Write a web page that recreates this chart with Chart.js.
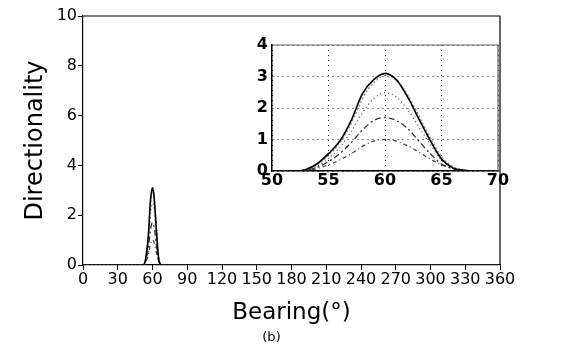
<!DOCTYPE html>
<html>
<head>
<meta charset="utf-8">
<script src="https://cdn.jsdelivr.net/npm/chart.js@4"></script>
<style>
  html,body{margin:0;padding:0;background:#fff;}
  #wrap{position:relative;width:561px;height:351px;}
  #main{position:absolute;left:0;top:0;}
  #inset{position:absolute;left:240px;top:30px;}
</style>
</head>
<body>
<div id="wrap">
  <canvas id="main" width="561" height="351"></canvas>
  <canvas id="inset" width="275" height="170"></canvas>
</div>
<script>
// bearing (deg) and directionality of the five curves
var bearing = [0,52,53,54,55,56,57,58,59,60,61,62,63,64,65,66,67,68,360];
var curveA = [0,0,0.05,0.23,0.55,0.95,1.6,2.45,2.9,3.1,2.9,2.35,1.65,0.97,0.38,0.1,0.02,0,0];
var curveB = [0,0,0.04,0.2,0.5,0.9,1.5,2.3,2.8,3.02,2.88,2.42,1.75,1.05,0.45,0.14,0.03,0,0];
var curveC = [0,0,0.03,0.15,0.4,0.75,1.25,1.85,2.3,2.48,2.35,1.95,1.4,0.85,0.35,0.1,0.02,0,0];
var curveD = [0,0,0.03,0.12,0.3,0.55,0.9,1.3,1.6,1.7,1.6,1.35,0.95,0.55,0.22,0.07,0.01,0,0];
var curveE = [0,0,0.02,0.08,0.2,0.35,0.55,0.78,0.95,1.0,0.95,0.8,0.6,0.38,0.2,0.08,0.02,0,0];

var mainXTicks = [0,30,60,90,120,150,180,210,240,270,300,330,360];
var mainYTicks = [0,2,4,6,8,10];
var insetXTicks = [50,55,60,65,70];
var insetYTicks = [0,1,2,3,4];

function pts(ys){
  var out = [];
  for(var i=0;i<bearing.length;i++){ out.push({x:bearing[i], y:ys[i]}); }
  return out;
}

function makeSets(){
  var styles = [
    {d:curveA, c:'#000', w:1.6, dash:[]},
    {d:curveB, c:'#9a9a9a', w:1.5, dash:[2,2]},
    {d:curveC, c:'#555', w:1.3, dash:[1,3]},
    {d:curveD, c:'#333', w:1.3, dash:[6,3,2,3]},
    {d:curveE, c:'#444', w:1.3, dash:[4,3,1,3]}
  ];
  var sets = [];
  for(var i=0;i<styles.length;i++){
    var s = styles[i];
    sets.push({
      data: pts(s.d),
      borderColor: s.c,
      borderWidth: s.w,
      borderDash: s.dash,
      pointRadius: 0,
      fill: false,
      cubicInterpolationMode: 'monotone'
    });
  }
  return sets;
}

function fixTicks(list){
  return function(axis){
    axis.ticks = list.map(function(v){ return {value:v}; });
  };
}

var boxPlugin = {
  id: 'box',
  afterDraw: function(chart, args, opts){
    var a = chart.chartArea, ctx = chart.ctx;
    ctx.save();
    ctx.strokeStyle = opts.color || '#000';
    ctx.lineWidth = 1.2;
    ctx.beginPath();
    ctx.moveTo(a.left, a.top);
    ctx.lineTo(a.right, a.top);
    ctx.lineTo(a.right, a.bottom);
    ctx.stroke();
    ctx.restore();
  }
};

Chart.defaults.animation = false;

new Chart(document.getElementById('main').getContext('2d'), {
  type: 'line',
  data: { datasets: makeSets() },
  plugins: [boxPlugin],
  options: {
    responsive: false,
    layout: { padding: { top: 16, right: 18, left: 0, bottom: 0 } },
    plugins: {
      legend: { display: false },
      tooltip: { enabled: false },
      box: { color: '#000' },
      title: {
        display: true, text: '(b)', position: 'bottom', color: '#000',
        font: { family: 'DejaVu Sans', size: 13, weight: 'normal' },
        padding: { top: 0, bottom: 6 }
      }
    },
    scales: {
      x: {
        type: 'linear', min: 0, max: 360,
        afterBuildTicks: fixTicks(mainXTicks),
        afterFit: function(s){ s.height = 64.4; },
        border: { display: true, color: '#000', width: 1.2 },
        grid: { drawOnChartArea: false, drawTicks: true, tickLength: 5, color: '#000' },
        ticks: { color: '#000', padding: 0, maxRotation: 0, autoSkip: false,
                 font: { family: 'DejaVu Sans', size: 16 } },
        title: { display: true, text: 'Bearing(°)', color: '#000',
                 font: { family: 'DejaVu Sans', size: 23 },
                 padding: { top: 0, bottom: 2.6 } }
      },
      y: {
        min: 0, max: 10,
        afterBuildTicks: fixTicks(mainYTicks),
        afterFit: function(s){ s.width = 83; },
        border: { display: true, color: '#000', width: 1.2 },
        grid: { drawOnChartArea: false, drawTicks: true, tickLength: 5, color: '#000' },
        ticks: { color: '#000', padding: 1, font: { family: 'DejaVu Sans', size: 16 } },
        title: { display: true, text: 'Directionality', color: '#000',
                 font: { family: 'DejaVu Sans', size: 24 },
                 padding: { top: 21, bottom: 0 } }
      },
      // empty right-hand axis, only reserves the margin right of the frame
      yr: {
        position: 'right', min: 0, max: 10,
        afterFit: function(s){ s.width = 43; },
        border: { display: false },
        grid: { display: false },
        ticks: { display: false }
      }
    }
  }
});

new Chart(document.getElementById('inset').getContext('2d'), {
  type: 'line',
  data: { datasets: makeSets() },
  plugins: [boxPlugin],
  options: {
    responsive: false,
    layout: { padding: { top: 15, right: 17, left: 0, bottom: 0 } },
    plugins: { legend: { display: false }, tooltip: { enabled: false }, box: { color: '#666' } },
    scales: {
      x: {
        type: 'linear', min: 50, max: 70,
        afterBuildTicks: fixTicks(insetXTicks),
        afterFit: function(s){ s.height = 29; },
        border: { display: true, color: '#000', width: 1.5, dash: [1,4] },
        grid: { drawOnChartArea: true, drawTicks: false, color: '#222', lineWidth: 1 },
        ticks: { color: '#000', padding: 0, maxRotation: 0, autoSkip: false,
                 font: { family: 'DejaVu Sans', size: 16, weight: 'bold' } }
      },
      y: {
        min: 0, max: 4,
        afterBuildTicks: fixTicks(insetYTicks),
        afterFit: function(s){ s.width = 32; },
        border: { display: true, color: '#000', width: 1.5, dash: [1,4] },
        grid: { drawOnChartArea: true, drawTicks: false, color: '#222', lineWidth: 1 },
        ticks: { color: '#000', padding: 4, font: { family: 'DejaVu Sans', size: 16, weight: 'bold' } }
      }
    }
  }
});
</script>
</body>
</html>
